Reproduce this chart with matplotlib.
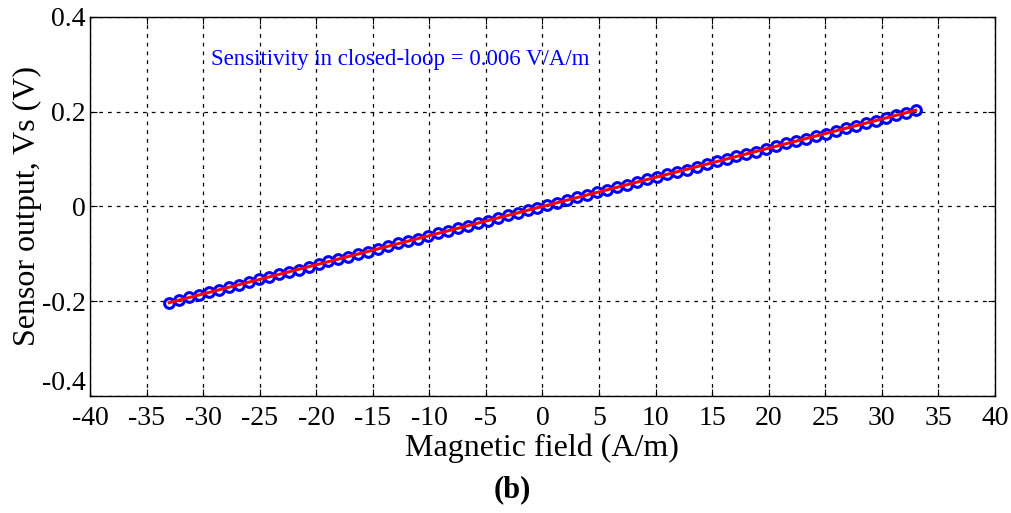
import numpy as np
import matplotlib.pyplot as plt

plt.rcParams['font.family'] = ['Liberation Serif', 'DejaVu Serif']

# measured field (A/m) and sensor output (V)
field_pos = [0.44, 1.32, 2.20, 3.08, 3.96, 4.84, 5.72, 6.60, 7.48, 8.36,
             9.24, 10.12, 11.00, 11.88, 12.76, 13.64, 14.52, 15.40, 16.28,
             17.16, 18.04, 18.92, 19.80, 20.68, 21.56, 22.44, 23.32, 24.20,
             25.08, 25.96, 26.84, 27.72, 28.60, 29.48, 30.36, 31.24, 32.12,
             33.00]
vs_pos = [0.003, 0.008, 0.014, 0.019, 0.024, 0.030, 0.035, 0.041, 0.046,
          0.051, 0.057, 0.062, 0.068, 0.073, 0.078, 0.084, 0.089, 0.095,
          0.100, 0.106, 0.111, 0.116, 0.122, 0.127, 0.133, 0.138, 0.143,
          0.149, 0.154, 0.160, 0.165, 0.170, 0.176, 0.181, 0.187, 0.192,
          0.198, 0.203]
field = [-v for v in field_pos[::-1]] + field_pos
vs = [-v for v in vs_pos[::-1]] + vs_pos

xticks = list(range(-40, 41, 5))
yticks = [-0.4, -0.2, 0, 0.2, 0.4]

fig = plt.figure(figsize=(10.12, 5.13), dpi=100)
ax = fig.add_axes([0.089, 0.228, 0.894, 0.739])

# linear fit
p = np.polyfit(field, vs, 1)
fx = np.array([min(field), max(field)])
ax.plot(field, vs, 'o', mfc='none', mec='blue', mew=2.2, ms=7, zorder=2)
ax.plot(fx, np.polyval(p, fx), color='red', lw=2.2, zorder=3)

ax.set_xlim(-40, 40)
ax.set_ylim(-0.4, 0.4)
ax.set_xticks(xticks)
ax.set_yticks(yticks)
ax.set_xticklabels([str(t) for t in xticks])
ax.set_yticklabels(['-0.4', '-0.2', '0', '0.2', '0.4'])
ax.tick_params(direction='in', top=True, right=True, labelsize=20, length=5)
ax.tick_params(axis='x', pad=7)
ax.tick_params(axis='y', pad=3)
ax.get_yticklabels()[0].set_va('bottom')
ax.grid(True, color='black', linestyle=(0, (3, 4)), lw=0.9)
for s in ax.spines.values():
    s.set_linewidth(1)

ax.set_xlabel('Magnetic field (A/m)', fontsize=23, labelpad=2)
ax.set_ylabel('Sensor output, Vs (V)', fontsize=23, labelpad=0)

ax.text(-29.3, 0.31, 'Sensitivity in closed-loop = 0.006 V/A/m',
        color='blue', fontsize=16.5, va='center', ha='left')

fig.text(0.506, 0.045, '(b)', fontsize=22, fontweight='bold', ha='center', va='center')

fig.savefig('out.png', dpi=100)
